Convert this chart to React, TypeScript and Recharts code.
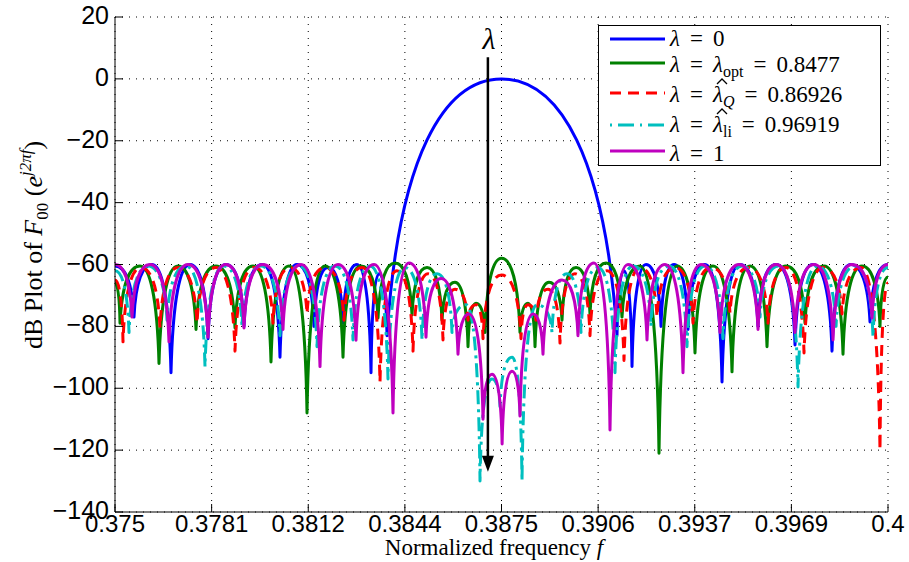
import React from 'react';
import { LineChart, Line, XAxis, YAxis, CartesianGrid, ReferenceLine, Legend } from 'recharts';

// axis ticks
const X_TICKS = [0.375, 0.378125, 0.38125, 0.384375, 0.3875, 0.390625, 0.39375, 0.396875, 0.4];
const X_TICK_LABELS = ['0.375', '0.3781', '0.3812', '0.3844', '0.3875', '0.3906', '0.3937', '0.3969', '0.4'];
const Y_TICKS = [-140, -120, -100, -80, -60, -40, -20, 0, 20];

// lambda = 0
const blueF = [0.375, 0.375614, 0.376197, 0.376811, 0.377426, 0.378008, 0.37859, 0.379172, 0.379754, 0.380336, 0.380886, 0.381436, 0.381889, 0.382374, 0.382827, 0.38328, 0.383538, 0.383797, 0.3875, 0.391236, 0.391462, 0.391721, 0.392174, 0.392659, 0.393079, 0.393532, 0.394082, 0.394632, 0.395214, 0.395796, 0.396378, 0.396993, 0.397575, 0.398189, 0.398804, 0.399418, 0.4];
const blueDb = [-60.5, -77, -60, -95, -60, -84, -60, -80, -60, -90, -60, -80, -61, -79, -60, -95, -63, -83, 0, -83, -62, -93, -60, -80, -60, -81, -60, -98, -60, -80, -60, -86, -60, -88, -60, -78.6, -60];

// lambda = lambda_opt
const greenF = [0.375, 0.375162, 0.375809, 0.376423, 0.377038, 0.37762, 0.378267, 0.378881, 0.379463, 0.380045, 0.380628, 0.38121, 0.381792, 0.382374, 0.382956, 0.383506, 0.384056, 0.384606, 0.385091, 0.385576, 0.385996, 0.386417, 0.386675, 0.386967, 0.3875, 0.388098, 0.388357, 0.388584, 0.389036, 0.389457, 0.38991, 0.390362, 0.39088, 0.391397, 0.391979, 0.392594, 0.393176, 0.393758, 0.39434, 0.394955, 0.395537, 0.396087, 0.396701, 0.397316, 0.39793, 0.398545, 0.399159, 0.399741, 0.4];
const greenDb = [-66, -79, -60.5, -92, -60.5, -81, -60.5, -80.5, -60.5, -91.5, -60.5, -108, -60.5, -90, -60.5, -77.3, -59.5, -76.3, -61, -78, -65.7, -86.6, -72.5, -82, -58, -82, -72.5, -86.6, -65.7, -78, -61, -76, -59.5, -77, -60.5, -121, -60.5, -88.6, -60.5, -94.7, -60.5, -86.6, -60.5, -79, -60.5, -89, -60.5, -80, -64];

// lambda = hat lambda_Q
const redF = [0.375, 0.375259, 0.375841, 0.376455, 0.377038, 0.377652, 0.378267, 0.378881, 0.379496, 0.38011, 0.38066, 0.38121, 0.381792, 0.382406, 0.382989, 0.383571, 0.38412, 0.384638, 0.385123, 0.385608, 0.385996, 0.386417, 0.386675, 0.386902, 0.3875, 0.388131, 0.388357, 0.388616, 0.389004, 0.389392, 0.389877, 0.390362, 0.390912, 0.391462, 0.391979, 0.392529, 0.393111, 0.393694, 0.394276, 0.39489, 0.395505, 0.396119, 0.396701, 0.397284, 0.397898, 0.398513, 0.399127, 0.399741, 0.4];
const redDb = [-65, -85, -61, -80.5, -61, -79, -61, -88, -61, -79, -61, -76, -61, -78, -61, -98, -62, -88, -63, -84.4, -68, -78, -73, -84, -63.4, -84, -73, -78, -68, -85.4, -63, -83, -62, -91, -61, -77, -61, -79, -61, -75.7, -61, -79, -61, -88.6, -61, -76, -61, -120, -66];

// lambda = hat lambda_li
const cyanF = [0.375, 0.375453, 0.376067, 0.376682, 0.377296, 0.377911, 0.378525, 0.379107, 0.379722, 0.380336, 0.380951, 0.381533, 0.382115, 0.382697, 0.383247, 0.383829, 0.384379, 0.384929, 0.385414, 0.385899, 0.386352, 0.386805, 0.387193, 0.387452, 0.38784, 0.388163, 0.388648, 0.389133, 0.389618, 0.390071, 0.390621, 0.391171, 0.391753, 0.392335, 0.392917, 0.393499, 0.394082, 0.394664, 0.395278, 0.395861, 0.396475, 0.39709, 0.397704, 0.398319, 0.398933, 0.399515, 0.4];
const cyanDb = [-62, -82, -60.5, -78, -60.5, -93, -60.5, -80, -60.5, -83, -60.5, -86.6, -60.5, -84.4, -60.5, -97, -61, -84.4, -63, -82, -73, -130, -97, -106, -90, -130, -73, -82, -63, -82, -61, -95, -60.5, -80, -60.5, -86.6, -60.5, -84, -60.5, -77, -60.5, -99.6, -60.5, -80, -60.5, -83.4, -61];

// lambda = 1
const magF = [0.375, 0.37555, 0.376132, 0.376746, 0.377361, 0.378008, 0.37859, 0.379172, 0.379787, 0.380433, 0.381016, 0.38163, 0.382212, 0.382794, 0.383377, 0.383991, 0.384509, 0.385058, 0.385544, 0.386093, 0.386449, 0.386902, 0.387193, 0.38752, 0.38784, 0.388098, 0.388519, 0.388842, 0.389457, 0.389974, 0.390492, 0.391009, 0.391591, 0.392206, 0.392788, 0.39337, 0.393952, 0.394567, 0.395181, 0.395796, 0.396378, 0.396993, 0.397607, 0.398222, 0.398836, 0.399483, 0.4];
const magDb = [-60, -77, -60, -85, -60, -83.5, -60, -80.5, -60, -81, -60, -93, -60, -84.5, -60, -108, -59.5, -83.5, -64.5, -89, -76, -110, -95.5, -118, -94.5, -109, -76, -89, -65, -83, -59.5, -113.5, -60, -84.4, -60, -95, -60, -82, -60, -81, -60, -82, -60, -84.4, -60, -77.3, -60];

// the arrow
const ARROW_F = 0.38706;
const ARROW_TOP = 7;
const ARROW_TIP = -127;

const toRows = (f: number[], db: number[]) => f.map((v, i) => ({ f: v, db: db[i] }));

const SERIES = [
  { key: 'b', data: toRows(blueF, blueDb), color: '#0000ff', dash: undefined },
  { key: 'g', data: toRows(greenF, greenDb), color: '#008000', dash: undefined },
  { key: 'r', data: toRows(redF, redDb), color: '#ff0000', dash: '11 7' },
  { key: 'c', data: toRows(cyanF, cyanDb), color: '#00bfbf', dash: '14 5 3 5' },
  { key: 'm', data: toRows(magF, magDb), color: '#bf00bf', dash: undefined },
];

const TICK_FONT = "'Liberation Sans Narrow', 'Arial Narrow', 'Liberation Sans', Arial, sans-serif";
const SERIF = "'Liberation Serif', 'DejaVu Serif', serif";

// sidelobe curve: flat at the lobe tops, sharp cusp at the nulls
function lobeCurve(context: any) {
  let pts: number[][] = [];
  return {
    areaStart() {},
    areaEnd() {},
    lineStart() { pts = []; },
    point(x: number, y: number) { pts.push([+x, +y]); },
    lineEnd() {
      if (!pts.length) return;
      context.moveTo(pts[0][0], pts[0][1]);
      for (let i = 1; i < pts.length; i++) {
        const [x0, y0] = pts[i - 1];
        const [x1, y1] = pts[i];
        const dx = x1 - x0;
        if (y1 >= y0) {
          context.bezierCurveTo(x0 + dx * 0.5, y0, x1 - dx * 0.1, y0 + (y1 - y0) * 0.3, x1, y1);
        } else {
          context.bezierCurveTo(x0 + dx * 0.1, y1 + (y0 - y1) * 0.3, x1 - dx * 0.5, y1, x1, y1);
        }
      }
    },
  };
}

const BottomTick = ({ x, y, payload, index }: any) => (
  <g>
    <line x1={x} y1={y} x2={x} y2={y - 8} stroke="#000" />
    <text x={x} y={y + 20} textAnchor="middle" fontFamily={TICK_FONT} fontSize={24} fill="#000">
      {X_TICK_LABELS[index] ?? String(payload.value)}
    </text>
  </g>
);

const LeftTick = ({ x, y, payload }: any) => (
  <g>
    <line x1={x} y1={y} x2={x + 8} y2={y} stroke="#000" />
    <text x={x - 6} y={y + 7} textAnchor="end" fontFamily={TICK_FONT} fontSize={25} fill="#000">
      {payload.value < 0 ? `\u2212${-payload.value}` : `${payload.value}`}
    </text>
  </g>
);

const TopTick = ({ x, y }: any) => <line x1={x} y1={y} x2={x} y2={y + 8} stroke="#000" />;
const RightTick = ({ x, y }: any) => <line x1={x} y1={y} x2={x - 8} y2={y} stroke="#000" />;

const Arrow = ({ x1, y1, x2, y2 }: any) => (
  <g>
    <line x1={x1} y1={y1} x2={x2} y2={y2 - 14} stroke="#000" strokeWidth={2.5} />
    <polygon points={`${x2 - 6},${y2 - 16} ${x2 + 6},${y2 - 16} ${x2},${y2}`} fill="#000" />
    <text x={x1 + 1} y={y1 - 8} textAnchor="middle" fontFamily={SERIF} fontStyle="italic" fontSize={30} fill="#000">λ</text>
  </g>
);

const LEGEND_ROWS = [
  { color: '#0000ff', dash: undefined, line: 14, base: 21 },
  { color: '#008000', dash: undefined, line: 38, base: 47 },
  { color: '#ff0000', dash: '11 7', line: 68, base: 77 },
  { color: '#00bfbf', dash: '2 6 16 6', line: 100, base: 107 },
  { color: '#bf00bf', dash: undefined, line: 126, base: 136 },
];

const EQ = 10;
const RHS_X = 115;

// left part of a legend row: "λ ="
const Lhs = ({ y, t }: any) => (
  <text x={72} y={y} {...t}>
    <tspan fontStyle="italic">λ</tspan>
    <tspan dx={EQ}>=</tspan>
  </text>
);

// right part: λ (optionally hatted) with subscript, then "= value"
const Rhs = ({ y, t, sub, subItalic, hat, value }: any) => (
  <g>
    {hat && <polyline points={`${RHS_X + 4},${y - 18} ${RHS_X + 9},${y - 23} ${RHS_X + 14},${y - 18}`} fill="none" stroke="#000" strokeWidth={1.3} />}
    <text x={RHS_X} y={y} {...t}>
      <tspan fontStyle="italic">λ</tspan>
      <tspan fontSize={16} dy={5} fontStyle={subItalic ? 'italic' : 'normal'}>{sub}</tspan>
      <tspan dx={EQ} dy={-5}>=</tspan>
      <tspan dx={EQ}>{value}</tspan>
    </text>
  </g>
);

const LegendBox = () => {
  const t = { fontFamily: SERIF, fontSize: 23, fill: '#000' };
  const b = LEGEND_ROWS.map((r) => r.base);
  return (
    <svg width={283} height={143} style={{ display: 'block', overflow: 'visible' }}>
      <rect x={0.5} y={0.5} width={282} height={140} fill="#fff" stroke="#000" />
      {LEGEND_ROWS.map((r) => (
        <line key={r.line} x1={12} x2={67} y1={r.line} y2={r.line} stroke={r.color} strokeWidth={3} strokeDasharray={r.dash} />
      ))}
      <text x={72} y={b[0]} {...t}>
        <tspan fontStyle="italic">λ</tspan>
        <tspan dx={EQ}>=</tspan>
        <tspan dx={EQ}>0</tspan>
      </text>
      <Lhs y={b[1]} t={t} />
      <Rhs y={b[1]} t={t} sub="opt" subItalic={false} hat={false} value="0.8477" />
      <Lhs y={b[2]} t={t} />
      <Rhs y={b[2]} t={t} sub="Q" subItalic hat value="0.86926" />
      <Lhs y={b[3]} t={t} />
      <Rhs y={b[3]} t={t} sub="li" subItalic={false} hat value="0.96919" />
      <text x={72} y={b[4]} {...t}>
        <tspan fontStyle="italic">λ</tspan>
        <tspan dx={EQ}>=</tspan>
        <tspan dx={EQ}>1</tspan>
      </text>
    </svg>
  );
};

const YLabel = () => (
  <text transform="translate(42, 245) rotate(-90)" textAnchor="middle" fontFamily={SERIF} fontSize={26} fill="#000">
    dB Plot of <tspan fontStyle="italic">F</tspan>
    <tspan fontSize={17} dy={6}>00</tspan>
    <tspan dy={-6}> (</tspan>
    <tspan fontStyle="italic">e</tspan>
    <tspan fontSize={17} fontStyle="italic" dy={-11}>j2πf</tspan>
    <tspan dy={11}>)</tspan>
  </text>
);

const XLabel = () => (
  <text x={494} y={555} textAnchor="middle" fontFamily={SERIF} fontSize={23} fill="#000">
    Normalized frequency <tspan fontStyle="italic">f</tspan>
  </text>
);

export default function App() {
  return (
    <div style={{ position: 'absolute', left: 0, top: 0, width: 909, height: 562, background: '#fff' }}>
      <LineChart width={909} height={562} margin={{ top: 17, right: 21, bottom: 0, left: 0 }}>
        <CartesianGrid stroke="#000" strokeDasharray="1 6" horizontalValues={Y_TICKS} verticalValues={X_TICKS} />
        <XAxis
          dataKey="f"
          type="number"
          domain={[0.375, 0.4]}
          ticks={X_TICKS}
          allowDataOverflow
          height={50}
          tickSize={0}
          tickMargin={0}
          tickLine={false}
          axisLine={{ stroke: '#000' }}
          tick={BottomTick}
          interval={0}
          label={XLabel}
        />
        <XAxis
          xAxisId="top"
          orientation="top"
          type="number"
          domain={[0.375, 0.4]}
          ticks={X_TICKS}
          allowDataOverflow
          height={0}
          tickSize={0}
          tickMargin={0}
          tickLine={false}
          axisLine={{ stroke: '#000' }}
          tick={TopTick}
          interval={0}
        />
        <YAxis
          type="number"
          domain={[-140, 20]}
          ticks={Y_TICKS}
          allowDataOverflow
          width={115}
          tickSize={0}
          tickMargin={0}
          tickLine={false}
          axisLine={{ stroke: '#000' }}
          tick={LeftTick}
          interval={0}
          label={YLabel}
        />
        <YAxis
          yAxisId="right"
          orientation="right"
          type="number"
          domain={[-140, 20]}
          ticks={Y_TICKS}
          allowDataOverflow
          width={0}
          tickSize={0}
          tickMargin={0}
          tickLine={false}
          axisLine={{ stroke: '#000' }}
          tick={RightTick}
          interval={0}
        />
        {SERIES.map((s) => (
          <Line
            key={s.key}
            data={s.data}
            dataKey="db"
            type={lobeCurve as any}
            stroke={s.color}
            strokeWidth={3}
            strokeDasharray={s.dash}
            strokeLinejoin="round"
            dot={false}
            activeDot={false}
            isAnimationActive={false}
          />
        ))}
        <ReferenceLine
          segment={[{ x: ARROW_F, y: ARROW_TOP }, { x: ARROW_F, y: ARROW_TIP }]}
          shape={Arrow}
          ifOverflow="visible"
        />
        <Legend
          layout="horizontal"
          verticalAlign="middle"
          align="center"
          wrapperStyle={{ position: 'absolute', left: 598, top: 25, width: 283, height: 143 }}
          content={() => <LegendBox />}
        />
      </LineChart>
    </div>
  );
}
